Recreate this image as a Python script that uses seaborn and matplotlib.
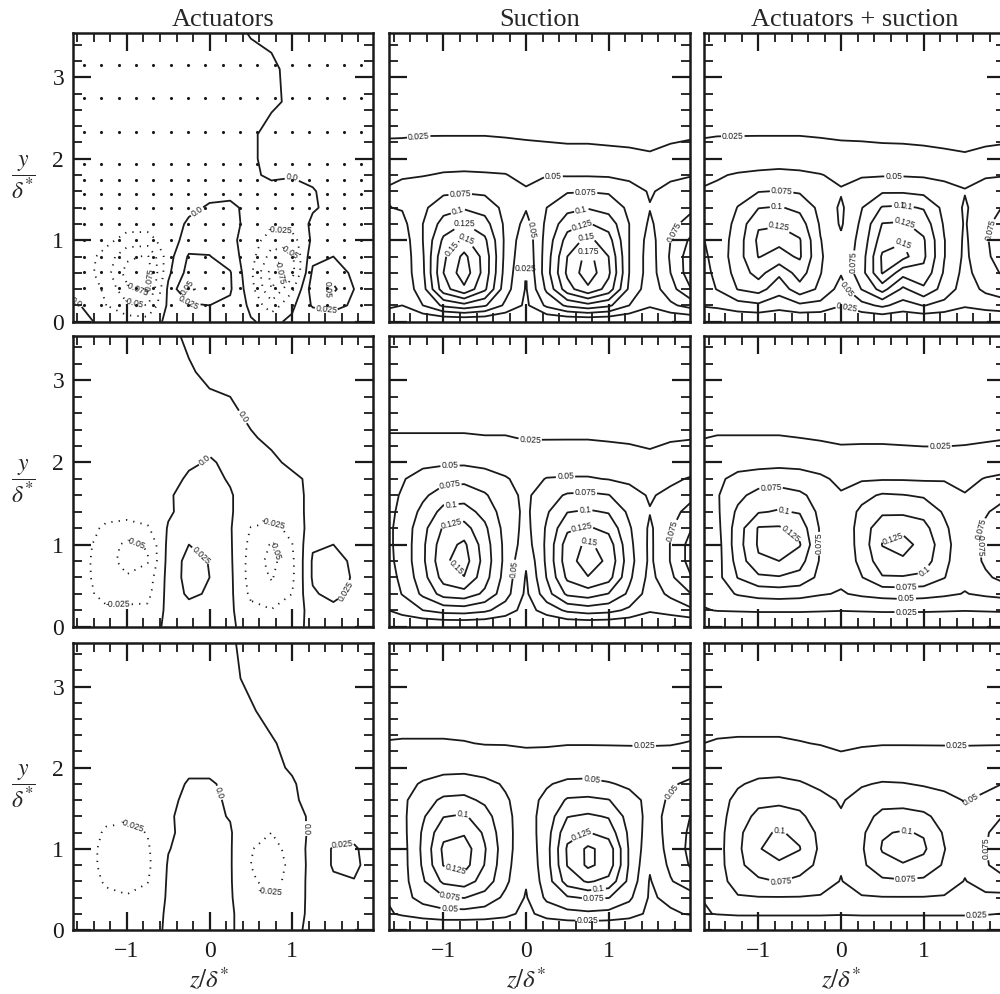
import numpy as np
import pandas as pd
import seaborn as sns
import matplotlib.pyplot as plt
import matplotlib.transforms as mtransforms
from matplotlib.ticker import MultipleLocator

# grid the fields were read on (z across, y up)
z_grid = [-1.75, -1.5, -1.25, -1.0, -0.75, -0.5, -0.25, 0.0,
          0.25, 0.5, 0.75, 1.0, 1.25, 1.5, 1.75, 2.0]
y_grid = [0.0, 0.2, 0.4, 0.6, 0.8, 1.0, 1.2, 1.4, 1.6, 1.8, 2.0,
          2.3, 2.7, 3.1, 3.6]

# measurement stations marked in the first panel
probe_z = [-1.52, -1.31, -1.10, -0.89, -0.68, -0.47, -0.26, -0.05, 0.16,
           0.37, 0.58, 0.79, 1.00, 1.21, 1.42, 1.63, 1.84]
probe_y = [0.21, 0.41, 0.61, 0.80, 1.00, 1.20, 1.40, 1.57, 1.74, 1.93,
           2.33, 2.74, 3.15]

# fields, in units of 1e-3, one row per y_grid value (bottom to top)
act_1 = [
    [8, 3, -5, -12, -14, 6, 2, 6, 4, 2, -6, 5, 4, 6, 5, 4],
    [6, -2, -25, -45, -50, 5, 20, 25, 20, -5, -40, -5, 28, 35, 20, 10],
    [-3, -10, -30, -70, -80, 5, 55, 38, 28, -15, -75, -30, 38, 55, 25, 12],
    [-6, -15, -40, -85, -90, -5, 35, 30, 27, -20, -85, -60, 30, 38, 20, 10],
    [-6, -15, -35, -70, -78, -10, 28, 26, 12, -15, -60, -55, 18, 25, 15, 10],
    [-6, -12, -18, -35, -35, -12, 10, 15, 5, -10, -40, -35, 5, 12, 10, 8],
    [-6, -10, -15, -15, -15, -10, 3, 10, 8, -8, -18, -15, 4, 8, 8, 7],
    [-6, -8, -10, -10, -10, -8, -4, 2, 3, -4, -8, -8, -2, 5, 6, 6],
    [-6, -8, -8, -8, -8, -7, -6, -5, -4, -3, -4, -5, -1, 5, 5, 5],
    [-6, -8, -8, -8, -8, -7, -6, -5, -4, -2, 2, 1, 3, 5, 5, 5],
    [-6, -7, -7, -7, -7, -7, -6, -5, -4, -2, 4, 6, 6, 6, 5, 5],
    [-6, -7, -7, -7, -7, -6, -6, -5, -4, -2, 4, 2, 4, 6, 5, 5],
    [-6, -6, -6, -6, -6, -6, -5, -4, -3, -2, -2, 2, 2, 3, 4, 5],
    [-5, -6, -6, -6, -6, -5, -4, -3, -2, -3, -2, 3, 4, 4, 4, 4],
    [-5, -5, -5, -5, -5, -4, -3, -2, -2, 1, 3, 3, 3, 3, 3, 3],
]
act_2 = [
    [-5, -6, -8, -10, -8, 4, 6, 5, 2, -5, -6, -4, 3, 5, 5, 4],
    [-8, -12, -20, -18, -20, 6, 15, 12, 4, -18, -24, -15, 10, 18, 12, 8],
    [-10, -18, -35, -38, -32, 8, 30, 22, 5, -30, -40, -25, 22, 32, 20, 10],
    [-10, -20, -40, -48, -38, 8, 35, 25, 5, -35, -52, -30, 28, 38, 22, 10],
    [-10, -20, -42, -58, -52, 8, 34, 24, 4, -35, -58, -30, 28, 35, 20, 10],
    [-10, -18, -40, -55, -48, 6, 25, 18, 3, -32, -52, -26, 22, 25, 15, 10],
    [-8, -15, -30, -35, -28, 2, 12, 10, 2, -26, -32, -18, 12, 12, 10, 8],
    [-8, -10, -15, -15, -12, -3, 8, 6, 2, -12, -12, -8, 6, 6, 6, 6],
    [-7, -8, -8, -8, -8, -2, 6, 5, 1, -6, -5, -4, 3, 5, 5, 5],
    [-7, -7, -7, -7, -7, -5, 2, 3, -1, -4, -4, -2, 2, 4, 5, 5],
    [-7, -7, -7, -7, -7, -6, -2, 1, -2, -3, -2, 2, 3, 4, 5, 5],
    [-6, -6, -6, -6, -6, -5, -4, -3, -2, -1, 2, 4, 4, 4, 5, 5],
    [-6, -6, -6, -6, -6, -5, -3, -2, -1, 3, 4, 4, 4, 4, 4, 4],
    [-5, -5, -5, -5, -5, -3, -1, 2, 3, 3, 4, 4, 4, 4, 4, 4],
    [-5, -5, -5, -5, -4, -2, 2, 3, 3, 3, 3, 3, 3, 3, 3, 3],
]
act_3 = [
    [-4, -5, -6, -7, -5, 2, 4, 3, 1, -4, -5, -3, 3, 4, 4, 3],
    [-5, -8, -12, -14, -10, 3, 6, 5, 2, -8, -12, -8, 5, 8, 8, 6],
    [-6, -12, -20, -23, -18, 3, 8, 6, 2, -15, -22, -14, 8, 14, 14, 8],
    [-7, -15, -28, -33, -26, 3, 9, 7, 2, -22, -32, -18, 10, 22, 24, 12],
    [-7, -16, -32, -38, -30, 2, 9, 7, 2, -25, -35, -20, 10, 27, 30, 14],
    [-7, -16, -32, -37, -28, -1, 8, 6, 2, -24, -32, -18, 10, 27, 28, 14],
    [-7, -15, -28, -32, -24, -3, 6, 5, 2, -20, -25, -14, 6, 18, 18, 12],
    [-6, -12, -20, -20, -15, -2, 5, 4, -1, -12, -14, -8, 4, 10, 10, 8],
    [-6, -8, -10, -10, -8, -3, 3, 3, -2, -6, -6, -2, 4, 6, 6, 6],
    [-6, -7, -7, -7, -6, -4, 1, 1, -2, -4, -4, -1, 4, 5, 5, 5],
    [-6, -6, -6, -6, -5, -4, -2, -2, -3, -3, -2, 1, 4, 4, 4, 4],
    [-5, -5, -5, -5, -5, -4, -3, -3, -3, -2, -1, 3, 4, 4, 4, 4],
    [-5, -5, -5, -5, -5, -4, -3, -3, -2, -1, 3, 3, 3, 3, 3, 3],
    [-5, -5, -5, -5, -4, -4, -3, -2, -2, 2, 3, 3, 3, 3, 3, 3],
    [-4, -4, -4, -4, -4, -3, -3, -2, -1, 3, 3, 3, 3, 3, 3, 3],
]
suc_1 = [
    [0, 0, 0, 0, 0, 0, 0, 0, 0, 0, 0, 0, 0, 0, 0, 0],
    [35, 25, 50, 80, 92, 78, 45, 20, 55, 80, 92, 80, 50, 28, 45, 60],
    [55, 30, 65, 140, 170, 130, 60, 23, 80, 140, 170, 140, 70, 35, 65, 100],
    [58, 33, 70, 150, 190, 140, 65, 24, 90, 155, 190, 155, 75, 38, 75, 115],
    [58, 33, 72, 145, 182, 140, 68, 28, 88, 150, 184, 150, 75, 38, 78, 115],
    [56, 35, 75, 130, 155, 130, 70, 32, 85, 135, 157, 135, 75, 40, 75, 105],
    [49, 42, 75, 110, 126, 110, 70, 42, 80, 115, 127, 115, 75, 46, 68, 85],
    [48, 52, 70, 90, 97, 90, 68, 52, 75, 92, 98, 90, 70, 51, 62, 70],
    [51, 56, 62, 70, 72, 70, 62, 53, 66, 73, 74, 72, 60, 48, 56, 60],
    [44, 48, 49, 52, 53, 52, 51, 43, 49, 48, 48, 47, 44, 42, 46, 49],
    [34, 36, 38, 40, 40, 40, 38, 35, 34, 33, 33, 32, 31, 28, 33, 36],
    [23, 23, 24, 24, 24, 24, 23, 22, 21, 20, 20, 19, 18, 18, 20, 22],
    [12, 12, 12, 12, 12, 12, 12, 12, 12, 11, 11, 11, 11, 11, 12, 12],
    [7, 7, 7, 7, 7, 7, 7, 7, 7, 7, 7, 7, 7, 7, 7, 7],
    [4, 4, 4, 4, 4, 4, 4, 4, 4, 4, 4, 4, 4, 4, 4, 4],
]
suc_2 = [
    [0, 0, 0, 0, 0, 0, 0, 0, 0, 0, 0, 0, 0, 0, 0, 0],
    [20, 35, 50, 60, 62, 55, 38, 15, 35, 55, 62, 58, 45, 28, 35, 45],
    [28, 51, 80, 110, 115, 95, 60, 20, 65, 105, 112, 99, 70, 38, 55, 75],
    [35, 55, 90, 135, 149, 110, 65, 23, 76, 130, 149, 135, 80, 42, 70, 99],
    [38, 58, 95, 145, 162, 115, 68, 28, 80, 140, 162, 145, 85, 45, 76, 110],
    [40, 58, 95, 140, 155, 112, 68, 38, 80, 138, 155, 138, 82, 45, 76, 110],
    [40, 58, 92, 128, 135, 105, 66, 42, 78, 120, 128, 118, 78, 46, 72, 99],
    [40, 55, 82, 108, 110, 92, 62, 45, 72, 99, 103, 98, 70, 51, 65, 85],
    [40, 52, 70, 88, 90, 78, 58, 45, 65, 78, 80, 76, 58, 48, 55, 68],
    [35, 48, 60, 66, 68, 60, 52, 42, 51, 52, 52, 49, 46, 42, 46, 52],
    [30, 38, 44, 46, 46, 44, 40, 36, 37, 38, 38, 36, 34, 31, 35, 38],
    [27, 27, 27, 27, 27, 26, 26, 24, 24, 24, 24, 23, 22, 20, 23, 24],
    [13, 13, 13, 13, 13, 13, 13, 13, 13, 13, 13, 13, 13, 13, 13, 13],
    [8, 8, 8, 8, 8, 8, 8, 8, 8, 8, 8, 8, 8, 8, 8, 8],
    [4, 4, 4, 4, 4, 4, 4, 4, 4, 4, 4, 4, 4, 4, 4, 4],
]
suc_3 = [
    [0, 0, 0, 0, 0, 0, 0, 0, 0, 0, 0, 0, 0, 0, 0, 0],
    [20, 28, 35, 40, 40, 38, 32, 18, 35, 42, 45, 42, 35, 20, 22, 27],
    [23, 40, 60, 72, 76, 65, 45, 23, 55, 72, 78, 76, 55, 22, 30, 40],
    [27, 40, 72, 105, 112, 90, 55, 27, 62, 112, 128, 118, 68, 23, 48, 65],
    [30, 40, 78, 126, 135, 99, 58, 30, 65, 126, 155, 140, 72, 28, 55, 78],
    [32, 40, 80, 130, 138, 102, 60, 32, 66, 128, 155, 140, 72, 34, 58, 82],
    [34, 42, 78, 118, 122, 96, 58, 36, 64, 118, 126, 115, 70, 38, 58, 80],
    [36, 44, 72, 99, 103, 86, 55, 40, 60, 99, 104, 98, 65, 42, 56, 76],
    [38, 45, 64, 80, 82, 70, 52, 42, 55, 78, 80, 76, 58, 44, 52, 65],
    [36, 44, 52, 58, 60, 55, 48, 40, 48, 55, 56, 52, 46, 42, 47, 55],
    [32, 37, 42, 44, 44, 42, 38, 34, 36, 38, 38, 36, 34, 33, 36, 40],
    [26, 27, 27, 27, 26, 24, 24, 23, 23, 24, 24, 24, 24, 24, 24, 26],
    [13, 13, 13, 13, 13, 13, 13, 13, 13, 13, 13, 13, 13, 13, 13, 13],
    [8, 8, 8, 8, 8, 8, 8, 8, 8, 8, 8, 8, 8, 8, 8, 8],
    [4, 4, 4, 4, 4, 4, 4, 4, 4, 4, 4, 4, 4, 4, 4, 4],
]
both_1 = [
    [0, 0, 0, 0, 0, 0, 0, 0, 0, 0, 0, 0, 0, 0, 0, 0],
    [26, 30, 40, 45, 35, 45, 42, 26, 42, 55, 40, 51, 42, 28, 35, 40],
    [35, 51, 76, 85, 60, 90, 70, 40, 76, 110, 70, 95, 65, 38, 55, 65],
    [38, 55, 85, 110, 80, 112, 76, 52, 90, 152, 110, 118, 72, 42, 65, 80],
    [40, 58, 90, 126, 118, 128, 78, 55, 88, 154, 158, 130, 76, 45, 70, 90],
    [45, 58, 88, 130, 130, 127, 76, 54, 84, 138, 148, 128, 76, 46, 72, 92],
    [52, 55, 84, 122, 124, 112, 72, 47, 80, 126, 128, 115, 72, 48, 70, 88],
    [52, 53, 76, 99, 102, 94, 68, 46, 74, 102, 104, 98, 68, 47, 65, 78],
    [51, 54, 64, 74, 76, 72, 62, 52, 66, 72, 72, 68, 58, 51, 58, 64],
    [42, 48, 52, 54, 56, 54, 51, 45, 47, 48, 48, 47, 45, 45, 48, 49],
    [33, 36, 38, 40, 40, 40, 37, 34, 35, 34, 33, 32, 30, 28, 31, 33],
    [23, 24, 24, 24, 24, 24, 23, 22, 21, 20, 20, 19, 18, 17, 19, 20],
    [12, 12, 12, 12, 12, 12, 12, 12, 12, 12, 12, 12, 12, 12, 12, 12],
    [7, 7, 7, 7, 7, 7, 7, 7, 7, 7, 7, 7, 7, 7, 7, 7],
    [4, 4, 4, 4, 4, 4, 4, 4, 4, 4, 4, 4, 4, 4, 4, 4],
]
both_2 = [
    [0, 0, 0, 0, 0, 0, 0, 0, 0, 0, 0, 0, 0, 0, 0, 0],
    [22, 26, 27, 28, 28, 28, 27, 26, 27, 28, 28, 28, 27, 26, 27, 28],
    [30, 40, 52, 58, 60, 58, 52, 48, 54, 58, 60, 58, 54, 49, 54, 58],
    [26, 42, 76, 95, 98, 92, 68, 55, 74, 98, 98, 95, 76, 55, 70, 85],
    [22, 40, 85, 122, 125, 110, 72, 57, 82, 115, 122, 112, 82, 55, 80, 99],
    [22, 40, 90, 128, 132, 127, 73, 57, 85, 126, 132, 118, 85, 55, 82, 105],
    [26, 43, 88, 127, 128, 115, 72, 58, 85, 118, 120, 108, 80, 56, 80, 98],
    [33, 46, 80, 98, 102, 98, 68, 60, 80, 95, 95, 92, 72, 56, 72, 88],
    [40, 48, 68, 85, 88, 80, 65, 52, 68, 78, 76, 72, 62, 51, 62, 70],
    [38, 46, 56, 60, 62, 60, 54, 45, 47, 48, 48, 47, 48, 45, 51, 55],
    [32, 38, 42, 43, 44, 43, 40, 38, 40, 40, 39, 38, 36, 37, 39, 40],
    [24, 26, 26, 26, 26, 25, 23, 20, 20, 20, 19, 18, 19, 20, 22, 24],
    [13, 13, 13, 13, 13, 13, 13, 13, 13, 13, 13, 13, 13, 13, 13, 13],
    [8, 8, 8, 8, 8, 8, 8, 8, 8, 8, 8, 8, 8, 8, 8, 8],
    [4, 4, 4, 4, 4, 4, 4, 4, 4, 4, 4, 4, 4, 4, 4, 4],
]
both_3 = [
    [0, 0, 0, 0, 0, 0, 0, 0, 0, 0, 0, 0, 0, 0, 0, 0],
    [22, 26, 28, 28, 28, 28, 28, 27, 28, 28, 28, 28, 28, 28, 27, 24],
    [22, 38, 48, 49, 49, 49, 48, 46, 48, 49, 49, 49, 48, 46, 45, 42],
    [20, 40, 60, 70, 76, 68, 60, 49, 62, 70, 72, 70, 62, 49, 60, 70],
    [18, 40, 68, 90, 95, 88, 68, 52, 70, 92, 98, 92, 72, 54, 72, 90],
    [20, 40, 70, 98, 112, 101, 70, 52, 72, 102, 112, 104, 76, 55, 74, 95],
    [24, 40, 68, 96, 102, 95, 68, 53, 70, 98, 102, 98, 72, 55, 72, 90],
    [30, 40, 62, 82, 85, 80, 62, 52, 65, 82, 84, 80, 66, 54, 62, 78],
    [34, 42, 55, 68, 70, 66, 56, 48, 58, 66, 66, 62, 56, 49, 54, 60],
    [33, 40, 48, 54, 55, 52, 46, 42, 48, 52, 51, 48, 45, 42, 46, 51],
    [29, 35, 40, 42, 43, 41, 38, 33, 36, 37, 37, 36, 35, 34, 36, 38],
    [24, 27, 28, 28, 28, 26, 24, 21, 23, 24, 24, 24, 24, 24, 24, 24],
    [13, 13, 13, 13, 13, 13, 13, 13, 13, 13, 13, 13, 13, 13, 13, 13],
    [8, 8, 8, 8, 8, 8, 8, 8, 8, 8, 8, 8, 8, 8, 8, 8],
    [4, 4, 4, 4, 4, 4, 4, 4, 4, 4, 4, 4, 4, 4, 4, 4],
]

col_titles = ["Actuators", "Suction", "Actuators + suction"]
panels = [[act_1, suc_1, both_1],
          [act_2, suc_2, both_2],
          [act_3, suc_3, both_3]]
act_levels = [-0.075, -0.05, -0.025, 0.0, 0.025, 0.05]
suc_levels = [0.025, 0.05, 0.075, 0.1, 0.125, 0.15, 0.175]

# where the contour labels sit (z, y), per panel
label_spots = {
    (0, 0): [(1.01, 1.93), (-0.17, 1.38), (0.85, 1.07), (0.97, 0.88),
             (0.91, 0.62), (1.39, 0.44), (1.42, 0.17), (-0.26, 0.42),
             (-0.28, 0.17), (-0.81, 0.52), (-0.89, 0.35), (-0.93, 0.17),
             (-1.54, 0.35)],
    (0, 1): [(-1.30, 2.27), (0.33, 1.82), (-0.80, 1.60), (-0.83, 1.37),
             (-0.75, 1.20), (-0.70, 1.04), (-0.85, 0.85), (0.72, 1.60),
             (0.67, 1.37), (0.67, 1.20), (0.73, 1.04), (0.73, 0.90),
             (0.09, 1.13), (0.01, 0.72), (1.80, 1.10)],
    (0, 2): [(-1.31, 2.23), (0.64, 1.76), (-0.72, 1.60), (-0.77, 1.37),
             (-0.74, 1.20), (0.70, 1.50), (0.75, 1.33), (0.75, 1.17),
             (0.78, 1.01), (0.07, 0.73), (0.03, 0.35), (0.07, 0.17),
             (1.78, 1.13)],
    (1, 0): [(0.38, 2.54), (-0.06, 2.03), (-0.06, 0.92), (-0.91, 0.96),
             (-1.11, 0.33), (0.76, 1.23), (0.78, 0.92), (1.59, 0.45)],
    (1, 1): [(0.05, 2.21), (-0.92, 1.93), (-0.92, 1.67), (-0.90, 1.42),
             (-0.90, 1.24), (-0.85, 0.72), (0.48, 1.79), (0.72, 1.59),
             (0.72, 1.39), (0.67, 1.23), (0.75, 1.00), (-0.15, 0.70),
             (1.77, 1.17)],
    (1, 2): [(1.20, 2.18), (-0.84, 1.60), (-0.70, 1.35), (-0.68, 1.06),
             (-0.05, 1.02), (0.63, 1.08), (1.00, 0.68), (0.79, 0.52),
             (0.79, 0.37), (0.79, 0.19), (1.60, 0.98), (1.78, 1.18)],
    (2, 0): [(0.0, 1.65), (1.17, 1.25), (-0.90, 1.35), (0.74, 0.49),
             (1.61, 1.02)],
    (2, 1): [(1.43, 2.17), (-0.76, 1.41), (-0.86, 0.72), (-0.92, 0.41),
             (-0.92, 0.29), (0.80, 1.87), (0.70, 1.14), (0.88, 0.49),
             (0.82, 0.35), (0.74, 0.10), (1.81, 1.66)],
    (2, 2): [(1.40, 2.19), (1.58, 1.60), (-0.74, 1.23), (-0.72, 0.55),
             (0.80, 1.23), (0.79, 0.55), (1.64, 0.26), (1.78, 1.00)],
}

sns.set_theme(style="ticks")
plt.rcParams["font.family"] = ["Liberation Serif", "DejaVu Serif"]
plt.rcParams["mathtext.fontset"] = "stix"
plt.rcParams["axes.unicode_minus"] = True

W, H = 1000, 994
fig = plt.figure(figsize=(W / 100, H / 100), dpi=100)

# panel boxes in pixels (the last column runs off the right edge, as in the scan)
col_left = [72.5, 389, 704]
ax_w = 300.5
row_top = [33.3, 336, 642.7]
row_bot = [321.7, 626.7, 930]

Z, Y = np.meshgrid(z_grid, y_grid)


def level_fmt(v):
    return "0.0" if v == 0 else f"{v:g}"


for r in range(3):
    for c in range(3):
        rect = [col_left[c] / W, 1 - row_bot[r] / H,
                ax_w / W, (row_bot[r] - row_top[r]) / H]
        ax = fig.add_axes(rect)
        field = np.array(panels[r][c], dtype=float) / 1000.0

        if c == 0:
            levels = act_levels
            styles = [(0, (0.7, 3.4)) if lv < 0 else "solid" for lv in levels]
        else:
            levels = suc_levels
            styles = ["solid"] * len(levels)

        if r == 0 and c == 0:
            pts = pd.DataFrame([(zz, yy) for yy in probe_y for zz in probe_z],
                               columns=["z", "y"])
            sns.scatterplot(data=pts, x="z", y="y", ax=ax, s=5, color="k",
                            linewidth=0, legend=False, zorder=1)

        ax.set_xlim(-1.66, 1.98)
        ax.set_ylim(0, 3.54)

        cs = ax.contour(Z, Y, field, levels=levels, colors="k",
                        linewidths=1.3, linestyles=styles, zorder=2)
        labels = ax.clabel(cs, fmt=level_fmt, fontsize=6.2, inline=True,
                           inline_spacing=2, manual=label_spots[(r, c)])
        for t in labels:
            t.set_fontfamily(["Liberation Sans", "DejaVu Sans"])

        ax.set_xlim(-1.66, 1.98)
        ax.set_ylim(0, 3.54)
        ax.set_xlabel("")
        ax.set_ylabel("")
        ax.xaxis.set_major_locator(MultipleLocator(1))
        ax.xaxis.set_minor_locator(MultipleLocator(0.2))
        ax.yaxis.set_major_locator(MultipleLocator(1))
        ax.yaxis.set_minor_locator(MultipleLocator(0.2))
        ax.tick_params(which="both", direction="in", top=True, right=True,
                       colors="k", labelsize=17)
        ax.tick_params(which="major", length=13, width=1.6)
        ax.tick_params(which="minor", length=6.5, width=1.3)
        ax.tick_params(axis="x", pad=8, labelbottom=(r == 2))
        ax.tick_params(axis="y", pad=6, labelleft=(c == 0))
        for sp in ax.spines.values():
            sp.set_linewidth(1.8)
            sp.set_color("k")

        if r == 0:
            ax.set_title(col_titles[c], fontsize=19, pad=5)
        if c == 0:
            ax.text(-0.165, 0.5, r"$\dfrac{y}{\delta^{*}}$", transform=ax.transAxes,
                    fontsize=17, ha="center", va="center")
        if r == 2:
            trans = mtransforms.blended_transform_factory(ax.transData, ax.transAxes)
            ax.text(0, -0.175, r"$z/\delta^{*}$", transform=trans, fontsize=18,
                    ha="center", va="center")

fig.savefig("out.png", dpi=100)
